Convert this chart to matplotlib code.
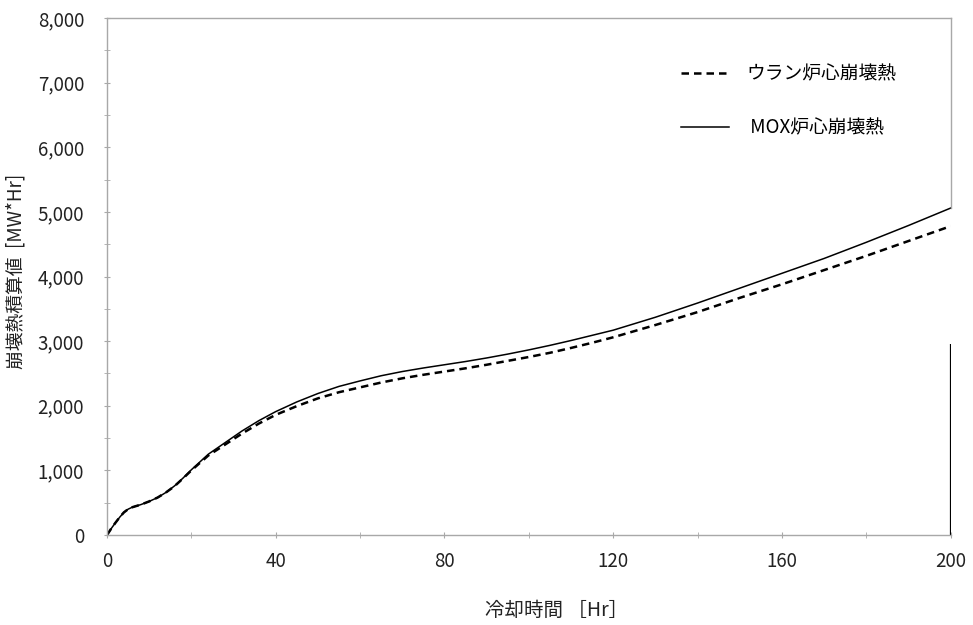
import matplotlib
matplotlib.use('Agg')
import matplotlib.pyplot as plt
from matplotlib.ticker import MultipleLocator, FuncFormatter

plt.rcParams['font.family'] = ['Noto Sans CJK JP', 'DejaVu Sans']

# cooling time [Hr]
hours = [0, 1, 2, 3, 4, 5, 6, 7, 8, 10, 12, 14, 16, 18, 20, 24, 28, 32, 36, 40,
         45, 50, 55, 60, 65, 70, 75, 80, 85, 90, 95, 100, 105, 110, 115, 120,
         130, 140, 150, 160, 170, 180, 190, 200]

# cumulative decay heat [MW*Hr]
mox_heat = [0, 100, 190, 275, 350, 400, 430, 450, 470, 520, 580, 660, 760, 880,
            1010, 1250, 1430, 1610, 1770, 1910, 2060, 2190, 2300, 2385, 2465,
            2530, 2585, 2635, 2685, 2740, 2800, 2865, 2935, 3010, 3090, 3170,
            3370, 3590, 3820, 4050, 4280, 4530, 4790, 5060]
uranium_heat = [0, 100, 190, 275, 350, 400, 430, 450, 470, 520, 580, 660, 755,
                875, 1000, 1230, 1400, 1570, 1725, 1860, 1995, 2115, 2210, 2285,
                2360, 2425, 2480, 2530, 2580, 2635, 2695, 2755, 2820, 2895, 2975,
                3060, 3250, 3450, 3670, 3880, 4100, 4320, 4550, 4780]

uranium_label = 'ウラン炉心崩壊熱'
mox_label = 'MOX炉心崩壊熱'

fig = plt.figure(figsize=(9.73, 6.25), dpi=100)
ax = fig.add_axes([0.110, 0.144, 0.867, 0.827])

ax.plot(hours, uranium_heat, color='black', linestyle=(0, (3, 2)), linewidth=1.8,
        label=uranium_label)
ax.plot(hours, mox_heat, color='black', linestyle='-', linewidth=1.1,
        label=' ' + mox_label)

# stray black edge line on the right side of the original
ax.vlines(200, 0, 2950, color='black', linewidth=1.6)

ax.set_xlim(0, 200)
ax.set_ylim(0, 8000)
ax.xaxis.set_major_locator(MultipleLocator(40))
ax.xaxis.set_minor_locator(MultipleLocator(20))
ax.yaxis.set_major_locator(MultipleLocator(1000))
ax.yaxis.set_minor_locator(MultipleLocator(500))
ax.yaxis.set_major_formatter(FuncFormatter(lambda v, p: f'{int(v):,}'))

for side in ['left', 'bottom', 'top', 'right']:
    ax.spines[side].set_color('#a8a8a8')
    ax.spines[side].set_linewidth(1.0)
ax.spines['right'].set_bounds(5060, 8000)

ax.tick_params(axis='both', which='both', direction='inout', color='#a8a8a8',
               labelsize=13.5, labelcolor='#222222')
ax.tick_params(axis='both', which='major', length=5)
ax.tick_params(axis='both', which='minor', length=4)
ax.tick_params(axis='x', pad=9)
ax.tick_params(axis='y', pad=14)

ax.set_xlabel('冷却時間 ［Hr］', fontsize=14, color='#222222')
ax.xaxis.set_label_coords(0.533, -0.126)
ax.set_ylabel('崩壊熱積算値  [MW*Hr]', fontsize=13.5, color='#222222')
ax.yaxis.set_label_coords(-0.096, 0.51)

ax.legend(loc='upper left', bbox_to_anchor=(0.66, 0.945), frameon=False,
          fontsize=13.5, handlelength=2.6, handletextpad=0.9, labelspacing=1.75)

fig.savefig('out.png', dpi=100)
